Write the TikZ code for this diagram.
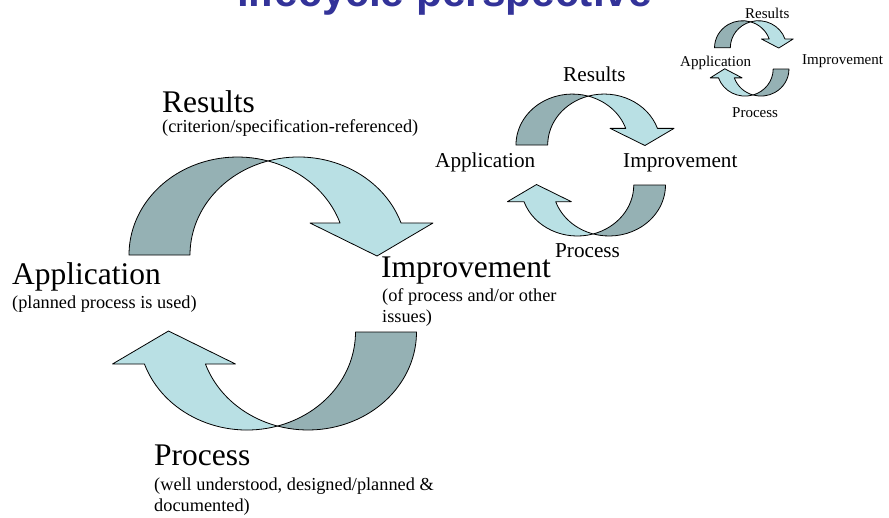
\documentclass[tikz,border=0pt]{standalone}
\usepackage{fontspec}
\setmainfont{Liberation Serif}
\newfontfamily\headfont{Liberation Sans}
\definecolor{bandlight}{RGB}{185,224,228}
\definecolor{banddark}{RGB}{149,177,180}
\definecolor{titleblue}{RGB}{51,51,153}
\tikzset{band/.style={draw=black, line width=0.8pt, line join=round}}
% half of a cycle: shaded tail rising on the left, light head coming down on the right
\newcommand\drawhalfloop{%
  \path[band, fill=banddark] (129,255)
    arc[start angle=180, end angle=286.33, x radius=108.5, y radius=98]
    arc[start angle=253.67, end angle=180, x radius=108.5, y radius=98] -- cycle;
  \path[band, fill=bandlight] (268,160.95)
    arc[start angle=253.67, end angle=340.94, x radius=108.5, y radius=98]
    -- (433,223) -- (377,256) -- (310,223) -- (340.06,223)
    arc[start angle=340.94, end angle=286.33, x radius=108.5, y radius=98] -- cycle;
}
% a whole cycle: the half above and its copy turned half a turn
\newcommand\drawfullloop{%
  \drawhalfloop
  \begin{scope}[rotate around={180:(272.75,293.5)}]
    \drawhalfloop
  \end{scope}
}
\begin{document}
\begin{tikzpicture}[x=1pt,y=-1pt,
  lbl/.style={inner sep=0pt, anchor=base west},
  big/.style={lbl, font=\fontsize{31.5}{36}\selectfont},
  note/.style={lbl, font=\fontsize{18.3}{21}\selectfont},
  mid/.style={lbl, font=\fontsize{21.2}{24}\selectfont},
  tiny/.style={lbl, font=\fontsize{15}{17}\selectfont}]
\useasboundingbox (0,0) rectangle (889,517);

% heading, mostly above the page edge
\node[lbl, font=\headfont\bfseries\fontsize{42.4}{48}\selectfont, text=titleblue]
  (title) at (237,6) {lifecycle perspective};

% large cycle
\drawfullloop

% medium cycle
\begin{scope}[shift={(448.9,12.4)}, scale=0.52]
  \drawfullloop
\end{scope}

% small cycle
\begin{scope}[shift={(681.1,-22.6)}, xscale=0.259, yscale=0.276]
  \drawfullloop
\end{scope}

% labels of the large cycle
\node[big] (res) at (162,112) {Results};
\node[note] (resnote) at (162,132) {(criterion/specification-referenced)};
\node[big] (app) at (12,284) {Application};
\node[note] (appnote) at (12,308) {(planned process is used)};
\node[big] (imp) at (381,277) {Improvement};
\node[note] (impnote1) at (382,301) {(of process and/or other};
\node[note] (impnote2) at (382,322) {issues)};
\node[big] (proc) at (154,465) {Process};
\node[note] (procnote1) at (154,490) {(well understood, designed/planned \&};
\node[note] (procnote2) at (154,511) {documented)};

% labels of the medium cycle
\node[mid] (mres) at (563,81) {Results};
\node[mid] (mapp) at (435,167) {Application};
\node[mid] (mimp) at (623,167) {Improvement};
\node[mid] (mproc) at (555,257) {Process};

% labels of the small cycle
\node[tiny] (sres) at (745,18) {Results};
\node[tiny] (sapp) at (680,66) {Application};
\node[tiny] (simp) at (802,64) {Improvement};
\node[tiny] (sproc) at (732,117) {Process};
\end{tikzpicture}
\end{document}
